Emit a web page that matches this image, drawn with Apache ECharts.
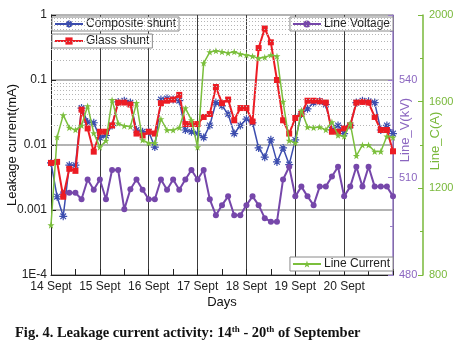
<!DOCTYPE html>
<html>
<head>
<meta charset="utf-8">
<script src="https://cdn.jsdelivr.net/npm/echarts@6/dist/echarts.min.js"></script>
<style>
html, body { margin: 0; padding: 0; background: #fff; }
#chart { width: 467px; height: 341px; }
</style>
</head>
<body>
<div id="chart"></div>
<script>
'use strict';

// hours since 14 Sept 00:00 (one reading every 3 h)
var hours = [0, 3, 6, 9, 12, 15, 18, 21, 24, 27, 30, 33, 36, 39, 42, 45,
  48, 51, 54, 57, 60, 63, 66, 69, 72, 75, 78, 81, 84, 87, 90, 93,
  96, 99, 102, 105, 108, 111, 114, 117, 120, 123, 126, 129, 132, 135, 138, 141,
  144, 147, 150, 153, 156, 159, 162, 165, 168];

var dayLabels = ['14 Sept', '15 Sept', '16 Sept', '17 Sept', '18 Sept', '19 Sept', '20 Sept', ''];
var leakLabels = ['1E-4', '0.001', '0.01', '0.1', '1'];

// leakage current (mA)
var composite = [0.0053, 0.0016, 0.0008, 0.0049, 0.0049, 0.037, 0.0225, 0.022,
  0.013, 0.014, 0.02, 0.046, 0.048, 0.045, 0.017, 0.016,
  0.016, 0.0093, 0.05, 0.052, 0.05, 0.048, 0.017, 0.016,
  0.015, 0.013, 0.02, 0.045, 0.04, 0.03, 0.015, 0.02,
  0.025, 0.022, 0.009, 0.0065, 0.012, 0.0055, 0.009, 0.005,
  0.012, 0.03, 0.036, 0.045, 0.047, 0.042, 0.017, 0.02,
  0.015, 0.02, 0.045, 0.048, 0.047, 0.045, 0.017, 0.02,
  0.015];
var glass = [0.0053, 0.0055, 0.0016, 0.0043, 0.004, 0.035, 0.018, 0.0079,
  0.016, 0.016, 0.02, 0.045, 0.045, 0.042, 0.015, 0.014,
  0.016, 0.015, 0.044, 0.048, 0.05, 0.059, 0.021, 0.021,
  0.021, 0.027, 0.03, 0.078, 0.044, 0.05, 0.024, 0.037,
  0.037, 0.023, 0.31, 0.62, 0.38, 0.1, 0.024, 0.015,
  0.026, 0.03, 0.048, 0.048, 0.047, 0.045, 0.016, 0.016,
  0.018, 0.02, 0.045, 0.046, 0.045, 0.027, 0.017, 0.017,
  0.008];
// line voltage (kV)
var voltage = [null, null, 505.3, 505.3, 505.3, 503.3, 509.4, 506.2,
  509.4, 503.3, 512.3, 512.3, 500.2, 506.4, 509.4, 506.2,
  503.3, 503.3, 509.4, 506.2, 509.4, 506.2, 509.4, 512.3,
  509.4, 512.3, 503.3, 498.4, 501.5, 504.2, 498.4, 498.4,
  501.5, 504.2, 501.5, 497.5, 496.4, 496.4, 509.4, 513.3,
  504.2, 507.2, 504.2, 501.5, 507.2, 507.2, 510.3, 513.3,
  504.2, 507.2, 513.3, 507.2, 513.3, 507.2, 507.2, 507.2,
  504.2];
// line current (A)
var current = [1030, 1437, 1538, 1480, 1470, 1490, 1580, 1455,
  1390, 1420, 1608, 1500, 1488, 1485, 1594, 1423,
  1409, 1409, 1520, 1469, 1469, 1480, 1570, 1515,
  1390, 1778, 1829, 1835, 1830, 1825, 1830, 1820,
  1815, 1810, 1800, 1805, 1815, 1810, 1600, 1420,
  1410, 1560, 1483, 1480, 1483, 1470, 1506, 1445,
  1440, 1500, 1350, 1400, 1400, 1370, 1370, 1440,
  1435];

var decades = [0.0001, 0.001, 0.01, 0.1];
var minorSteps = [2, 3, 4, 5, 6, 7, 8, 9];

var BLUE = '#3c4dae', RED = '#ec1c24', PURPLE = '#7647aa', GREEN = '#7bbf3c';
var PURPLE_TXT = '#8b66c0', GREEN_TXT = '#79b83a';
var FONT = 'Liberation Sans';

function pairs(vals) {
  var out = [];
  hours.forEach(function (h, i) {
    if (vals[i] !== null) out.push([h, vals[i]]);
  });
  return out;
}

var minorLines = [];
decades.forEach(function (d) {
  minorSteps.forEach(function (m) {
    minorLines.push({ yAxis: +(d * m).toPrecision(3) });
  });
});

var asterisk = 'path://M5,0L5,10M0,5L10,5M1.5,1.5L8.5,8.5M1.5,8.5L8.5,1.5';
var star = 'path://M5,0L6.2,3.6L10,3.6L7,5.9L8.1,9.5L5,7.3L1.9,9.5L3,5.9L0,3.6L3.8,3.6Z';

function legendBox(name, pos) {
  var lg = {
    data: [name],
    top: pos.top,
    orient: 'horizontal',
    backgroundColor: '#fff',
    borderColor: '#8a8a8a',
    borderWidth: 1,
    padding: [1, 3, 1, 2],
    itemWidth: 28,
    itemHeight: 9,
    itemGap: 4,
    textStyle: { fontFamily: FONT, fontSize: 12, color: '#222', padding: [0, 0, 0, -2] }
  };
  if (pos.left !== undefined) lg.left = pos.left;
  if (pos.right !== undefined) lg.right = pos.right;
  return lg;
}

function plain(v) { return String(v); }

var chart = echarts.init(document.getElementById('chart'), null, { renderer: 'canvas' });

chart.setOption({
  animation: false,
  backgroundColor: '#fff',
  title: {
    left: 10,
    top: 320,
    text: 'Fig. 4. Leakage current activity: 14{sup|th} - 20{sup|th} of September',
    textStyle: {
      fontFamily: 'Liberation Serif', fontWeight: 'bold', fontSize: 14.5, color: '#111',
      lineHeight: 17,
      rich: {
        sup: { fontFamily: 'Liberation Serif', fontWeight: 'bold', fontSize: 9, verticalAlign: 'top', lineHeight: 17, padding: [0, 0, 6, 0] }
      }
    }
  },
  legend: [
    legendBox('Composite shunt', { left: 52, top: 17 }),
    legendBox('Glass shunt', { left: 52, top: 34 }),
    legendBox('Line Voltage', { right: 74, top: 17 }),
    legendBox('Line Current', { right: 74, top: 257 })
  ],
  grid: { left: 51, right: 74, top: 15, bottom: 66, outerBoundsMode: 'none', containLabel: false },
  xAxis: {
    type: 'value',
    min: 0, max: 168, interval: 24,
    name: 'Days', nameLocation: 'middle', nameGap: 21, nameMoveOverlap: false,
    nameTextStyle: { fontFamily: FONT, fontSize: 13, color: '#111' },
    axisLine: { lineStyle: { color: '#222', width: 1 } },
    axisTick: { inside: true, length: 6, lineStyle: { color: '#222' } },
    minorTick: { show: true, splitNumber: 2, length: 6, lineStyle: { color: '#222' } },
    axisLabel: {
      margin: 6, fontFamily: FONT, fontSize: 12, color: '#222',
      formatter: function (v) { return dayLabels[Math.round(v / 24)]; }
    },
    splitLine: { show: true, lineStyle: { color: '#3a3a3a', width: 1 } }
  },
  yAxis: [{
    type: 'log', logBase: 10, min: 0.0001, max: 1,
    position: 'left',
    name: 'Leakage current(mA)', nameLocation: 'middle', nameGap: 32, nameMoveOverlap: false,
    nameTextStyle: { fontFamily: FONT, fontSize: 13, color: '#111' },
    axisLine: { show: true, lineStyle: { color: '#222', width: 1 } },
    axisTick: { show: true, inside: true, length: 5, lineStyle: { color: '#222' } },
    axisLabel: {
      margin: 4, fontFamily: FONT, fontSize: 12, color: '#222',
      formatter: function (v) { return leakLabels[Math.round(Math.log10(v)) + 4]; }
    },
    splitLine: { show: true, lineStyle: { color: '#9a9a9a', width: 1.5 } }
  }, {
    type: 'value', min: 480, max: 560, interval: 30,
    position: 'right', offset: 0,
    name: 'Line_V(kV)', nameLocation: 'middle', nameGap: 6, nameMoveOverlap: false,
    nameTextStyle: { fontFamily: FONT, fontSize: 13, color: PURPLE_TXT, padding: [0, 0, 0, 30] },
    axisLine: { show: true, lineStyle: { color: '#9b7fcc', width: 1.5 } },
    axisTick: { show: true, inside: true, length: 5, lineStyle: { color: '#9b7fcc' } },
    minorTick: { show: true, splitNumber: 2, length: 3, lineStyle: { color: '#9b7fcc' } },
    axisLabel: { margin: 6, fontFamily: FONT, fontSize: 11, color: PURPLE_TXT, showMaxLabel: false, formatter: plain },
    splitLine: { show: false }
  }, {
    type: 'value', min: 800, max: 2000, interval: 400,
    position: 'right', offset: 30,
    name: 'Line_C(A)', nameLocation: 'middle', nameGap: 6, nameMoveOverlap: false,
    nameTextStyle: { fontFamily: FONT, fontSize: 13, color: GREEN_TXT, padding: [0, 0, 0, 8] },
    axisLine: { show: true, lineStyle: { color: GREEN_TXT, width: 1.5 } },
    axisTick: { show: true, inside: true, length: 5, lineStyle: { color: GREEN_TXT } },
    minorTick: { show: true, splitNumber: 2, length: 3, lineStyle: { color: GREEN_TXT } },
    axisLabel: { margin: 6, fontFamily: FONT, fontSize: 11, color: GREEN_TXT, formatter: plain },
    splitLine: { show: false }
  }],
  series: [{
    name: 'minor grid',
    type: 'line',
    yAxisIndex: 0,
    data: [],
    z: 0,
    silent: true,
    markLine: {
      silent: true, symbol: 'none', animation: false,
      label: { show: false },
      lineStyle: { color: '#b5b5b5', type: [1, 2], width: 1 },
      data: minorLines
    }
  }, {
    name: 'Composite shunt',
    type: 'line',
    yAxisIndex: 0,
    data: pairs(composite),
    symbol: asterisk, symbolSize: 8, showAllSymbol: true,
    lineStyle: { color: BLUE, width: 1.5 },
    itemStyle: { color: BLUE, borderColor: BLUE, borderWidth: 1.2 },
    z: 3
  }, {
    name: 'Glass shunt',
    type: 'line',
    yAxisIndex: 0,
    data: pairs(glass),
    symbol: 'rect', symbolSize: 6, showAllSymbol: true,
    lineStyle: { color: RED, width: 2 },
    itemStyle: { color: RED },
    z: 4
  }, {
    name: 'Line Voltage',
    type: 'line',
    yAxisIndex: 1,
    data: pairs(voltage),
    symbol: 'circle', symbolSize: 6, showAllSymbol: true,
    lineStyle: { color: PURPLE, width: 2 },
    itemStyle: { color: PURPLE },
    z: 3
  }, {
    name: 'Line Current',
    type: 'line',
    yAxisIndex: 2,
    data: pairs(current),
    symbol: star, symbolSize: 7, showAllSymbol: true,
    lineStyle: { color: GREEN, width: 1.5 },
    itemStyle: { color: GREEN },
    z: 5
  }]
});
</script>
</body>
</html>
